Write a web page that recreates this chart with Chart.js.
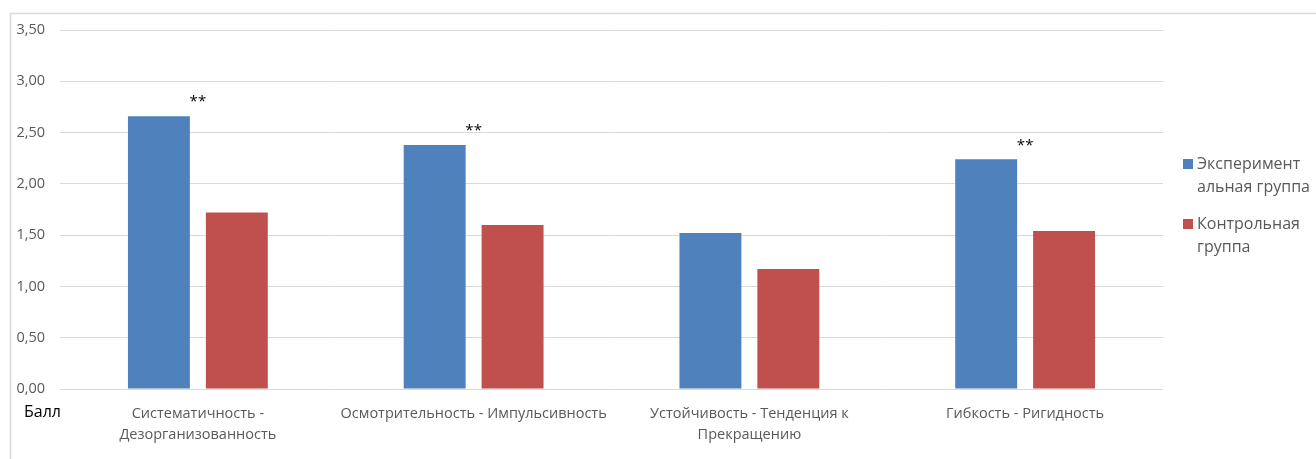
<!DOCTYPE html>
<html lang="ru">
<head>
<meta charset="utf-8">
<title>Балл</title>
<script src="https://cdn.jsdelivr.net/npm/chart.js@4.4.1/dist/chart.umd.min.js"></script>
<style>
  html, body { margin: 0; padding: 0; background: #fff; }
  #wrap { width: 1316px; height: 459px; position: relative; }
</style>
</head>
<body>
<div id="wrap"><canvas id="grafico"></canvas></div>
<script>
// данные диаграммы
const categories = [
    ['Систематичность -', 'Дезорганизованность'],
    'Осмотрительность - Импульсивность',
    ['Устойчивость - Тенденция к', 'Прекращению'],
    'Гибкость - Ригидность'
];
const experimental = [2.66, 2.38, 1.52, 2.24];
const control = [1.72, 1.60, 1.17, 1.54];
const significance = ['**', '**', '', '**'];
const seriesNames = ['Экспериментальная группа', 'Контрольная группа'];
const legendLines = [['Эксперимент', 'альная группа'], ['Контрольная', 'группа']];
const yTicks = [0, 0.5, 1, 1.5, 2, 2.5, 3, 3.5];

const BLUE = '#4f81bd';
const RED = '#c0504d';
const GRID = '#d9d9d9';
const TEXT = '#595959';
const FONT = "'Open Sans', 'Noto Sans', sans-serif";

// рамка, подпись "Балл", звёздочки и легенда справа
const extras = {
    id: 'extras',
    beforeDraw(chart) {
        const c = chart.ctx;
        c.save();
        c.strokeStyle = GRID;
        c.lineWidth = 1.5;
        c.strokeRect(10.5, 13.5, 1400, 500);
        c.restore();
    },
    afterDraw(chart) {
        const c = chart.ctx;
        const x = chart.scales.x;
        const y = chart.scales.y;
        c.save();

        c.fillStyle = '#000';
        c.font = '16px ' + FONT;
        c.textAlign = 'left';
        c.textBaseline = 'middle';
        c.fillText('Балл', 24, 412);

        c.font = '15px ' + FONT;
        c.textAlign = 'center';
        c.textBaseline = 'middle';
        significance.forEach((s, i) => {
            if (!s) return;
            c.fillText(s, x.getPixelForValue(i), y.getPixelForValue(experimental[i]) - 14);
        });

        const colors = [BLUE, RED];
        const tops = [164, 224];
        c.font = '16px ' + FONT;
        c.textAlign = 'left';
        legendLines.forEach((lines, k) => {
            c.fillStyle = colors[k];
            c.fillRect(1183, tops[k] - 5, 10, 10);
            c.fillStyle = TEXT;
            lines.forEach((t, j) => c.fillText(t, 1197, tops[k] + j * 23));
        });
        c.restore();
    }
};

new Chart(document.getElementById('grafico'), {
    type: 'bar',
    data: {
        labels: categories,
        datasets: [
            { label: seriesNames[0], data: experimental, backgroundColor: BLUE },
            { label: seriesNames[1], data: control, backgroundColor: RED }
        ]
    },
    options: {
        responsive: true,
        maintainAspectRatio: false,
        animation: false,
        datasets: {
            bar: { categoryPercentage: 0.565, barPercentage: 0.795 }
        },
        layout: { padding: { left: 10, top: 30, right: 153, bottom: 0 } },
        plugins: {
            legend: { display: false },
            tooltip: { enabled: false }
        },
        scales: {
            x: {
                grid: { display: false },
                border: { display: false },
                ticks: {
                    color: TEXT,
                    font: { family: FONT, size: 14.5, lineHeight: 1.45 },
                    padding: 6,
                    maxRotation: 0,
                    autoSkip: false
                },
                afterFit(s) { s.height = 70; }
            },
            y: {
                min: 0,
                max: 3.5,
                afterBuildTicks(s) { s.ticks = yTicks.map(v => ({ value: v })); },
                grid: { color: GRID, lineWidth: 1, drawTicks: false },
                border: { display: false },
                ticks: {
                    color: TEXT,
                    font: { family: FONT, size: 14.5 },
                    padding: 15,
                    callback: v => v.toFixed(2).replace('.', ',')
                },
                afterFit(s) { s.width = 50; }
            }
        }
    },
    plugins: [extras]
});
</script>
</body>
</html>
